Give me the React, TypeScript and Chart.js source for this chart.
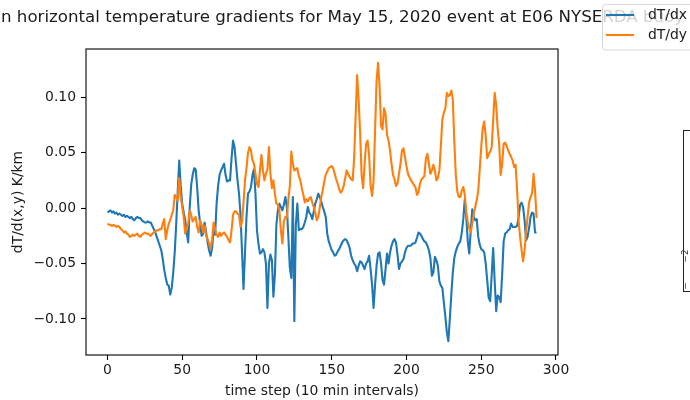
import React, { useEffect, useRef } from "react";
import { Chart, registerables } from "chart.js";

Chart.register(...registerables);

// ---------- data ----------
const timeSteps: number[] = Array.from({ length: 288 }, (_, i) => i);

const dTdx: number[] = [
  -0.004, -0.003, -0.002, -0.004, -0.003, -0.005, -0.004, -0.006, -0.005, -0.006,
  -0.007, -0.006, -0.008, -0.007, -0.008, -0.009, -0.008, -0.010, -0.011, -0.009,
  -0.008, -0.009, -0.009, -0.011, -0.012, -0.013, -0.013, -0.012, -0.013, -0.013,
  -0.016, -0.019, -0.022, -0.026, -0.030, -0.034, -0.038, -0.046, -0.056, -0.063,
  -0.069, -0.070, -0.078, -0.072, -0.058, -0.040, -0.014, 0.015, 0.043, 0.020,
  0.004, -0.004, -0.011, -0.022, -0.031, 0.000, 0.021, 0.030, 0.036, 0.035,
  0.019, -0.002, -0.014, -0.025, -0.023, -0.013, -0.022, -0.031, -0.038, -0.043,
  -0.036, -0.020, -0.024, 0.004, 0.020, 0.030, 0.034, 0.037, 0.040, 0.030,
  0.024, 0.025, 0.025, 0.045, 0.061, 0.055, 0.040, 0.025, 0.013, -0.006,
  -0.039, -0.073, -0.040, -0.008, 0.013, 0.015, 0.019, 0.030, 0.035, 0.013,
  -0.020, -0.032, -0.041, -0.040, -0.037, -0.040, -0.050, -0.090, -0.050, -0.042,
  -0.047, -0.080, -0.060, -0.015, -0.002, 0.004, 0.001, -0.002, 0.003, 0.010,
  0.001, -0.026, -0.054, -0.063, 0.010, -0.102, -0.015, 0.004, -0.020, -0.019,
  -0.019, -0.017, -0.013, -0.008, 0.001, -0.004, -0.006, -0.010, -0.003, 0.004,
  0.008, 0.013, 0.010, 0.006, 0.001, -0.003, -0.008, -0.023, -0.030, -0.034,
  -0.038, -0.040, -0.043, -0.042, -0.039, -0.037, -0.034, -0.031, -0.029, -0.028,
  -0.029, -0.032, -0.036, -0.043, -0.047, -0.050, -0.052, -0.057, -0.052, -0.048,
  -0.049, -0.052, -0.055, -0.050, -0.048, -0.043, -0.055, -0.069, -0.090, -0.069,
  -0.052, -0.041, -0.040, -0.050, -0.065, -0.069, -0.055, -0.041, -0.050, -0.040,
  -0.034, -0.030, -0.028, -0.031, -0.042, -0.055, -0.050, -0.048, -0.046, -0.040,
  -0.036, -0.034, -0.034, -0.034, -0.032, -0.032, -0.031, -0.027, -0.022, -0.023,
  -0.025, -0.028, -0.030, -0.031, -0.034, -0.038, -0.045, -0.061, -0.058, -0.044,
  -0.047, -0.052, -0.066, -0.070, -0.072, -0.085, -0.098, -0.112, -0.120, -0.100,
  -0.078, -0.058, -0.045, -0.039, -0.035, -0.032, -0.030, -0.022, -0.010, 0.008,
  -0.008, -0.030, -0.041, -0.020, -0.001, -0.008, -0.011, -0.010, -0.026, -0.033,
  -0.037, -0.038, -0.040, -0.050, -0.065, -0.081, -0.084, -0.060, -0.036, -0.066,
  -0.093, -0.079, -0.080, -0.085, -0.060, -0.030, -0.023, -0.022, -0.020, -0.019,
  -0.014, -0.017, -0.017, -0.017, -0.016, -0.008, 0.003, 0.005, 0.001, -0.011,
  -0.029, -0.026, -0.018, -0.008, -0.004, -0.005, -0.022, -0.022,
];

const dTdy: number[] = [
  -0.014, -0.015, -0.015, -0.016, -0.015, -0.016, -0.017, -0.016, -0.017, -0.019,
  -0.020, -0.022, -0.021, -0.023, -0.024, -0.026, -0.025, -0.024, -0.025, -0.024,
  -0.023, -0.025, -0.026, -0.024, -0.023, -0.022, -0.023, -0.023, -0.024, -0.025,
  -0.023, -0.022, -0.021, -0.020, -0.020, -0.019, -0.019, -0.014, -0.010, -0.028,
  -0.020, -0.014, -0.011, -0.006, -0.002, 0.012, 0.010, 0.007, 0.027, 0.010,
  0.001, -0.008, -0.023, -0.018, -0.014, -0.002, -0.006, -0.012, -0.010, -0.008,
  -0.017, -0.022, -0.011, -0.015, -0.022, -0.016, -0.025, -0.028, -0.032, -0.037,
  -0.028, -0.013, -0.019, -0.024, -0.026, -0.022, -0.025, -0.023, -0.022, -0.024,
  -0.026, -0.029, -0.031, -0.020, -0.006, -0.003, -0.003, -0.005, -0.006, -0.017,
  -0.012, 0.005, 0.025, 0.036, 0.050, 0.055, 0.052, 0.043, 0.040, 0.031,
  0.022, 0.019, 0.034, 0.048, 0.034, 0.025, 0.031, 0.035, 0.055, 0.031,
  0.018, 0.025, 0.013, 0.004, 0.003, -0.002, -0.020, -0.032, -0.012, -0.008,
  -0.009, 0.008, 0.020, 0.051, 0.040, 0.034, 0.035, 0.036, 0.029, 0.025,
  0.018, 0.012, 0.005, 0.008, 0.006, 0.009, 0.010, 0.005, 0.001, -0.004,
  -0.011, -0.008, 0.000, 0.010, 0.016, 0.024, 0.030, 0.033, 0.036, 0.037,
  0.038, 0.036, 0.031, 0.026, 0.022, 0.017, 0.014, 0.016, 0.020, 0.027,
  0.034, 0.031, 0.028, 0.026, 0.025, 0.045, 0.083, 0.120, 0.098, 0.068,
  0.030, 0.018, 0.040, 0.058, 0.061, 0.048, 0.020, 0.011, 0.025, 0.070,
  0.115, 0.131, 0.110, 0.074, 0.071, 0.090, 0.085, 0.066, 0.061, 0.052,
  0.040, 0.030, 0.026, 0.020, 0.022, 0.031, 0.040, 0.052, 0.054, 0.046,
  0.038, 0.031, 0.028, 0.025, 0.023, 0.021, 0.019, 0.012, 0.014, 0.022,
  0.026, 0.027, 0.029, 0.045, 0.049, 0.040, 0.031, 0.034, 0.039, 0.034,
  0.025, 0.027, 0.034, 0.056, 0.080, 0.086, 0.090, 0.104, 0.101, 0.102,
  0.106, 0.098, 0.060, 0.030, 0.015, 0.010, 0.010, 0.016, 0.019, 0.012,
  -0.004, -0.012, -0.018, -0.022, -0.014, -0.005, 0.001, 0.007, 0.016, 0.035,
  0.055, 0.072, 0.078, 0.065, 0.045, 0.049, 0.051, 0.055, 0.080, 0.104,
  0.093, 0.072, 0.058, 0.030, 0.040, 0.058, 0.059, 0.056, 0.052, 0.049,
  0.046, 0.043, 0.037, 0.039, 0.016, -0.011, -0.026, -0.038, -0.048, -0.038,
  -0.022, -0.008, 0.005, 0.010, 0.013, 0.031, 0.016, -0.009,
];

const seriesLabels: string[] = ["dT/dx", "dT/dy"];
const seriesColors: string[] = ["#1f77b4", "#ff7f0e"];
const xTickValues: number[] = [0, 50, 100, 150, 200, 250, 300];
const yTickValues: number[] = [-0.1, -0.05, 0, 0.05, 0.1];

const titleText =
  "Mean horizontal temperature gradients for May 15, 2020 event at E06 NYSERDA buoy";
const titleHiddenPrefix = "Mea";
const xAxisTitle = "time step (10 min intervals)";
const yAxisTitle = "dT/d(x,y) K/km";

const FONT = '"DejaVu Sans", sans-serif';
const TEXT = "#1a1a1a";

const decorPlugin = {
  id: "decor",
  afterDraw(chart: any) {
    const { ctx, chartArea: a } = chart;
    ctx.save();

    // spines
    ctx.strokeStyle = "#000";
    ctx.lineWidth = 1.1;
    ctx.strokeRect(a.left, a.top, a.right - a.left, a.bottom - a.top);

    // axis titles
    ctx.fillStyle = TEXT;
    ctx.font = `13.9px ${FONT}`;
    ctx.textAlign = "center";
    ctx.textBaseline = "middle";
    ctx.fillText(xAxisTitle, (a.left + a.right) / 2, 391);
    ctx.save();
    ctx.translate(18, (a.top + a.bottom) / 2);
    ctx.rotate(-Math.PI / 2);
    ctx.fillText(yAxisTitle, 0, 0);
    ctx.restore();

    // title (clipped on the left by the canvas edge)
    ctx.font = `16.67px ${FONT}`;
    ctx.textAlign = "left";
    ctx.textBaseline = "alphabetic";
    const pre = ctx.measureText(titleHiddenPrefix).width;
    ctx.fillText(titleText, 1 - pre, 21.5);

    // partial neighbouring axes at the right edge
    ctx.strokeStyle = "#222";
    ctx.lineWidth = 1;
    ctx.strokeRect(683.5, 130.5, 30, 161);
    ctx.save();
    ctx.font = `9px ${FONT}`;
    ctx.fillStyle = "#333";
    ctx.translate(688, 256);
    ctx.rotate(-Math.PI / 2);
    ctx.textAlign = "center";
    ctx.fillText("−2", 0, 0);
    ctx.restore();
    ctx.save();
    ctx.font = `9px ${FONT}`;
    ctx.fillStyle = "#333";
    ctx.translate(688, 286);
    ctx.rotate(-Math.PI / 2);
    ctx.textAlign = "center";
    ctx.fillText("−", 0, 0);
    ctx.restore();

    // legend box
    const bx = 602.5, by = 4.5, bw = 110, bh = 45.5, r = 3;
    ctx.beginPath();
    ctx.moveTo(bx + r, by);
    ctx.lineTo(bx + bw - r, by);
    ctx.quadraticCurveTo(bx + bw, by, bx + bw, by + r);
    ctx.lineTo(bx + bw, by + bh - r);
    ctx.quadraticCurveTo(bx + bw, by + bh, bx + bw - r, by + bh);
    ctx.lineTo(bx + r, by + bh);
    ctx.quadraticCurveTo(bx, by + bh, bx, by + bh - r);
    ctx.lineTo(bx, by + r);
    ctx.quadraticCurveTo(bx, by, bx + r, by);
    ctx.closePath();
    ctx.fillStyle = "rgba(255,255,255,0.8)";
    ctx.fill();
    ctx.strokeStyle = "rgba(204,204,204,0.8)";
    ctx.lineWidth = 1;
    ctx.stroke();

    seriesLabels.forEach((lab, i) => {
      const y = 15 + i * 20;
      ctx.strokeStyle = seriesColors[i];
      ctx.lineWidth = 2.1;
      ctx.beginPath();
      ctx.moveTo(606, y);
      ctx.lineTo(634, y);
      ctx.stroke();
      ctx.fillStyle = TEXT;
      ctx.font = `13.9px ${FONT}`;
      ctx.textAlign = "left";
      ctx.textBaseline = "middle";
      ctx.fillText(lab, 648, y);
    });

    ctx.restore();
  },
};

function App() {
  const ref = useRef<HTMLCanvasElement | null>(null);

  useEffect(() => {
    if (!ref.current) return;
    const allVals = dTdx.concat(dTdy);
    const yMin0 = Math.min(...allVals);
    const yMax0 = Math.max(...allVals);
    const yPad = (yMax0 - yMin0) * 0.05;
    const xMin0 = timeSteps[0];
    const xMax0 = timeSteps[timeSteps.length - 1];
    const xPad = (xMax0 - xMin0) * 0.05;

    const series = [dTdx, dTdy];
    const tickFont = { family: FONT, size: 13.9 };

    const chart = new Chart(ref.current, {
      type: "line",
      data: {
        datasets: series.map((s, k) => ({
          label: seriesLabels[k],
          data: s.map((v, i) => ({ x: timeSteps[i], y: v })),
          borderColor: seriesColors[k],
          backgroundColor: seriesColors[k],
          borderWidth: 2.1,
          pointRadius: 0,
          tension: 0,
          fill: false,
          borderJoinStyle: "round" as const,
          order: k === 0 ? 1 : 0,
        })),
      },
      options: {
        animation: false,
        responsive: false,
        devicePixelRatio: 1,
        layout: { padding: { top: 49, right: 132, left: 0, bottom: 0 } },
        plugins: {
          legend: { display: false },
          title: { display: false },
          tooltip: { enabled: false },
        },
        scales: {
          x: {
            type: "linear",
            min: xMin0 - xPad,
            max: xMax0 + xPad,
            afterBuildTicks: (s: any) => {
              s.ticks = xTickValues.map((v) => ({ value: v }));
            },
            afterFit: (s: any) => {
              s.height = 45;
            },
            grid: {
              display: true,
              drawOnChartArea: false,
              drawTicks: true,
              tickLength: 5,
              tickWidth: 1.1,
              tickColor: "#000",
            },
            border: { display: false },
            ticks: {
              font: tickFont,
              color: TEXT,
              padding: 2,
              maxRotation: 0,
              autoSkip: false,
              callback: (v: any) => String(v),
            },
          },
          y: {
            type: "linear",
            min: yMin0 - yPad,
            max: yMax0 + yPad,
            afterBuildTicks: (s: any) => {
              s.ticks = yTickValues.map((v) => ({ value: v }));
            },
            afterFit: (s: any) => {
              s.width = 86;
            },
            grid: {
              display: true,
              drawOnChartArea: false,
              drawTicks: true,
              tickLength: 5,
              tickWidth: 1.1,
              tickColor: "#000",
            },
            border: { display: false },
            ticks: {
              font: tickFont,
              color: TEXT,
              padding: 5,
              autoSkip: false,
              callback: (v: any) => Number(v).toFixed(2).replace("-", "\u2212"),
            },
          },
        },
      },
      plugins: [decorPlugin],
    });
    return () => chart.destroy();
  }, []);

  return (
    <canvas
      ref={ref}
      width={690}
      height={400}
      style={{ position: "absolute", left: 0, top: 0, width: 690, height: 400 }}
    />
  );
}

export default App;
